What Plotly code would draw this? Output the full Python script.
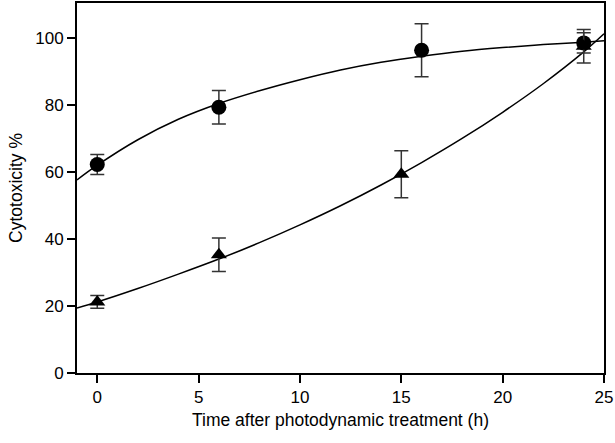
import plotly.graph_objects as go

# Measured data (time in h, cytotoxicity %)
circle_x = [0, 6, 16, 24]
circle_y = [62.2, 79.3, 96.3, 98.5]
circle_err = [3.0, 5.0, 7.9, 3.0]

tri_x = [0, 6, 15, 24]
tri_y = [21.2, 35.3, 59.3, 97.5]
tri_err = [1.9, 5.0, 7.0, 5.0]

# Fitted curves
circle_fit_x = [-1, 0, 2, 4, 6, 8, 10, 12, 14, 16, 18, 20, 22, 24, 25]
circle_fit_y = [57.6, 62.0, 69.6, 75.7, 80.4, 84.2, 87.5, 90.4, 92.7, 94.5, 96.0, 97.1, 98.0, 98.7, 99.1]

tri_fit_x = [-1, 0, 2, 4, 6, 8, 10, 12, 14, 16, 18, 20, 22, 24, 25]
tri_fit_y = [19.4, 21.2, 25.2, 29.5, 34.0, 38.9, 44.2, 49.9, 56.1, 62.8, 70.0, 77.8, 86.3, 95.8, 101.2]

x_ticks = [0, 5, 10, 15, 20, 25]
y_ticks = [0, 20, 40, 60, 80, 100]

FONT = "Liberation Sans, Arial, sans-serif"

fig = go.Figure()

fig.add_trace(go.Scatter(x=circle_fit_x, y=circle_fit_y, mode="lines",
                         line=dict(color="black", width=1.5, shape="spline"),
                         showlegend=False, hoverinfo="skip"))
fig.add_trace(go.Scatter(x=tri_fit_x, y=tri_fit_y, mode="lines",
                         line=dict(color="black", width=1.5, shape="spline"),
                         showlegend=False, hoverinfo="skip"))

fig.add_trace(go.Scatter(x=circle_x, y=circle_y, mode="markers",
                         marker=dict(symbol="circle", size=15, color="black"),
                         error_y=dict(type="data", array=circle_err, visible=True,
                                      color="#333333", thickness=1.5, width=7),
                         showlegend=False))
fig.add_trace(go.Scatter(x=tri_x, y=tri_y, mode="markers",
                         marker=dict(symbol="triangle-up", size=14, color="black"),
                         error_y=dict(type="data", array=tri_err, visible=True,
                                      color="#333333", thickness=1.5, width=7),
                         showlegend=False))

fig.update_layout(
    width=615, height=443,
    margin=dict(l=77, r=11, t=3, b=70, autoexpand=False),
    plot_bgcolor="white", paper_bgcolor="white",
    font=dict(family=FONT, size=17, color="black"),
    showlegend=False,
)

fig.update_xaxes(
    range=[-1, 25], tickvals=x_ticks, ticktext=[str(v) for v in x_ticks],
    ticks="outside", ticklen=8, tickwidth=2, tickcolor="black",
    showline=True, linewidth=2, linecolor="black", mirror=True,
    showgrid=False, zeroline=False, automargin=False,
    tickfont=dict(size=17),
    title=dict(text="Time after photodynamic treatment (h)", font=dict(size=17.5), standoff=7),
)
fig.update_yaxes(
    range=[0, 110.4], tickvals=y_ticks, ticktext=[str(v) for v in y_ticks],
    ticks="outside", ticklen=8, tickwidth=2, tickcolor="black",
    showline=True, linewidth=2, linecolor="black", mirror=True,
    showgrid=False, zeroline=False, automargin=False,
    tickfont=dict(size=17),
    title=dict(text="Cytotoxicity %", font=dict(size=17.5), standoff=8),
)

fig.write_html("out.html", config={"displayModeBar": False},
               post_script="document.body.style.margin='0';document.body.style.overflow='hidden';")
